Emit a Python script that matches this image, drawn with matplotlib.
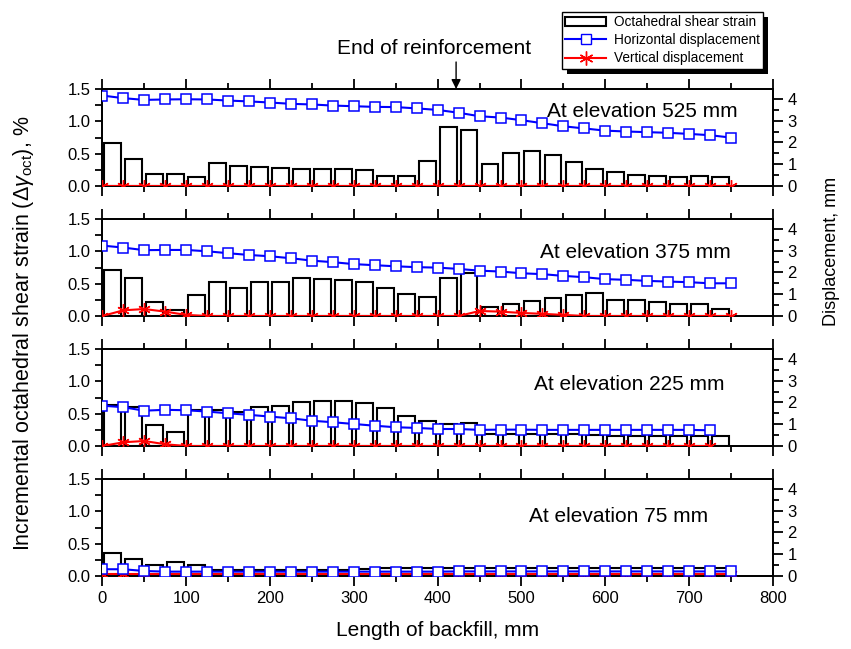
import matplotlib
matplotlib.use("Agg")
import matplotlib.pyplot as plt
from matplotlib.ticker import MultipleLocator, FormatStrFormatter
from matplotlib.patches import Rectangle, Patch
from matplotlib.lines import Line2D
import numpy as np

plt.rcParams['font.family'] = ['Liberation Sans', 'DejaVu Sans']
plt.rcParams['mathtext.fontset'] = 'custom'
plt.rcParams['mathtext.rm'] = 'Liberation Sans'
plt.rcParams['mathtext.it'] = 'Liberation Sans:italic'

# ---- data ----
bar_x = [12.5, 37.5, 62.5, 87.5, 112.5, 137.5, 162.5, 187.5, 212.5, 237.5,
         262.5, 287.5, 312.5, 337.5, 362.5, 387.5, 412.5, 437.5, 462.5, 487.5,
         512.5, 537.5, 562.5, 587.5, 612.5, 637.5, 662.5, 687.5, 712.5, 737.5]
pt_x = [0, 25, 50, 75, 100, 125, 150, 175, 200, 225, 250, 275, 300, 325, 350,
        375, 400, 425, 450, 475, 500, 525, 550, 575, 600, 625, 650, 675, 700,
        725, 750]

elevations = ["At elevation 525 mm", "At elevation 375 mm",
              "At elevation 225 mm", "At elevation 75 mm"]

strain_525 = [0.67, 0.41, 0.18, 0.19, 0.14, 0.36, 0.31, 0.30, 0.28, 0.27,
              0.26, 0.26, 0.25, 0.16, 0.16, 0.38, 0.92, 0.87, 0.34, 0.51,
              0.54, 0.48, 0.37, 0.26, 0.21, 0.175, 0.16, 0.145, 0.15, 0.145]
strain_375 = [0.71, 0.58, 0.21, 0.10, 0.33, 0.53, 0.43, 0.52, 0.53, 0.59,
              0.57, 0.55, 0.52, 0.43, 0.34, 0.30, 0.58, 0.67, 0.14, 0.19,
              0.23, 0.28, 0.32, 0.36, 0.25, 0.25, 0.22, 0.18, 0.18, 0.11]
strain_225 = [0.63, 0.60, 0.33, 0.22, 0.56, 0.56, 0.52, 0.60, 0.62, 0.68,
              0.69, 0.69, 0.66, 0.58, 0.47, 0.39, 0.34, 0.35, 0.19, 0.19,
              0.19, 0.19, 0.19, 0.17, 0.16, 0.16, 0.155, 0.155, 0.155, 0.155]
strain_75 = [0.36, 0.26, 0.17, 0.22, 0.17, 0.10, 0.10, 0.10, 0.10, 0.10,
             0.10, 0.10, 0.11, 0.12, 0.12, 0.12, 0.12, 0.12, 0.12, 0.12,
             0.12, 0.12, 0.12, 0.12, 0.12, 0.12, 0.12, 0.12, 0.12, 0.12]

horiz_525 = [4.15, 4.03, 3.95, 3.97, 3.98, 3.97, 3.92, 3.88, 3.83, 3.77,
             3.74, 3.69, 3.66, 3.63, 3.62, 3.56, 3.49, 3.36, 3.20, 3.14,
             3.02, 2.88, 2.74, 2.64, 2.54, 2.50, 2.47, 2.44, 2.39, 2.33, 2.22]
horiz_375 = [3.23, 3.14, 3.02, 3.03, 3.03, 2.97, 2.88, 2.80, 2.74, 2.65,
             2.54, 2.47, 2.38, 2.33, 2.28, 2.24, 2.22, 2.16, 2.08, 2.04,
             1.96, 1.92, 1.84, 1.78, 1.69, 1.66, 1.61, 1.58, 1.55, 1.50, 1.50]
horiz_225 = [1.85, 1.78, 1.62, 1.66, 1.64, 1.58, 1.50, 1.43, 1.35, 1.27,
             1.16, 1.09, 1.01, 0.93, 0.86, 0.83, 0.78, 0.78, 0.74, 0.75,
             0.75, 0.74, 0.74, 0.74, 0.74, 0.74, 0.74, 0.74, 0.74, 0.72]
horiz_75 = [0.31, 0.31, 0.23, 0.20, 0.20, 0.20, 0.20, 0.20, 0.20, 0.20,
            0.20, 0.20, 0.20, 0.20, 0.20, 0.20, 0.20, 0.21, 0.21, 0.21,
            0.21, 0.21, 0.21, 0.21, 0.21, 0.21, 0.21, 0.21, 0.21, 0.21, 0.21]

vert_525 = [0.0] * 31
vert_375 = [0.0, 0.26, 0.32, 0.20, 0.05, 0.0, 0.0, 0.0, 0.0, 0.0,
            0.0, 0.0, 0.0, 0.0, 0.0, 0.0, 0.0, 0.0, 0.23, 0.20,
            0.14, 0.10, 0.05, 0.0, 0.0, 0.0, 0.0, 0.0, 0.0, 0.0, 0.0]
vert_225 = [0.0, 0.17, 0.23, 0.08, 0.0, 0.0, 0.0, 0.0, 0.0, 0.0,
            0.0, 0.0, 0.0, 0.0, 0.0, 0.0, 0.0, 0.0, 0.0, 0.0,
            0.0, 0.0, 0.0, 0.0, 0.0, 0.0, 0.0, 0.0, 0.0, 0.0]
vert_75 = [0.10] * 31

reinforcement_end = 422

strains = [strain_525, strain_375, strain_225, strain_75]
horizs = [horiz_525, horiz_375, horiz_225, horiz_75]
verts = [vert_525, vert_375, vert_225, vert_75]

label_x = [530, 522, 515, 509]
label_y = [0.77, 0.65, 0.63, 0.61]

W, H = 851, 649
fig = plt.figure(figsize=(W / 100, H / 100), dpi=100)

left_px, right_px = 102.3, 773.0
tops = [89, 219, 349, 479]
ph = 97

axes = []
for i in range(4):
    ax = fig.add_axes([left_px / W, 1 - (tops[i] + ph) / H,
                       (right_px - left_px) / W, ph / H])
    axes.append(ax)
    s = strains[i]
    ax.bar(bar_x, s, width=20, facecolor='white', edgecolor='black',
           linewidth=1.5, zorder=2)
    ax.set_xlim(0, 800)
    ax.set_ylim(0, 1.5)
    ax.xaxis.set_major_locator(MultipleLocator(100))
    ax.xaxis.set_minor_locator(MultipleLocator(50))
    ax.yaxis.set_major_locator(MultipleLocator(0.5))
    ax.yaxis.set_minor_locator(MultipleLocator(0.25))
    ax.yaxis.set_major_formatter(FormatStrFormatter('%.1f'))
    ax.tick_params(which='both', direction='out', top=True, bottom=True,
                   left=True, right=False, width=1.3, labelsize=12)
    ax.tick_params(which='major', length=7)
    ax.tick_params(which='minor', length=4.5)
    ax.tick_params(axis='y', which='both', length=5)
    if i < 3:
        ax.tick_params(axis='x', labelbottom=False)
    for sp in ax.spines.values():
        sp.set_linewidth(1.3)

    ax2 = ax.twinx()
    n = len(horizs[i])
    ax2.plot(pt_x[:n], horizs[i], color='#0000ff', linewidth=1.5, marker='s',
             markersize=7, markerfacecolor='white', markeredgecolor='#0000ff',
             markeredgewidth=1.1, zorder=4)
    nv = len(verts[i])
    ax2.plot(pt_x[:nv], verts[i], color='red', linewidth=1.5,
             marker=(6, 2, 0), markersize=9, markeredgecolor='red',
             markeredgewidth=1.0, zorder=3)
    ax2.set_ylim(0, 4.45)
    ax2.yaxis.set_major_locator(MultipleLocator(1))
    ax2.yaxis.set_minor_locator(MultipleLocator(0.5))
    ax2.tick_params(which='both', direction='out', width=1.3, labelsize=12)
    ax2.tick_params(which='major', length=7)
    ax2.tick_params(which='minor', length=4.5)
    for sp in ax2.spines.values():
        sp.set_linewidth(1.3)

    ax2.text(label_x[i], label_y[i], elevations[i],
             transform=ax.get_xaxis_transform(),
             fontsize=15, ha='left', va='center', zorder=6)

axes[-1].set_xlabel("Length of backfill, mm", fontsize=15, labelpad=11)

fig.text(24 / W, 1 - 333 / H,
         r"Incremental octahedral shear strain ($\Delta\gamma_{\mathrm{oct}}$), %",
         rotation=90, ha='center', va='center', fontsize=15.5)
fig.text(831 / W, 1 - 251 / H, "Displacement, mm", rotation=90,
         ha='center', va='center', fontsize=13)

# End of reinforcement annotation
axes[0].annotate("", xy=(reinforcement_end, 1.5), xycoords='data',
                 xytext=(reinforcement_end, 1 - 62 / H),
                 textcoords=('data', 'figure fraction'),
                 arrowprops=dict(arrowstyle='-|>', color='black', lw=1.0,
                                 shrinkA=0, shrinkB=0, mutation_scale=14,
                                 facecolor='black'),
                 annotation_clip=False)
fig.text(434 / W, 1 - 48 / H, "End of reinforcement", ha='center',
         va='center', fontsize=15)

# Legend
handles = [Patch(facecolor='white', edgecolor='black', linewidth=1.5),
           Line2D([], [], color='#0000ff', lw=1.5, marker='s', markersize=6.5,
                  markerfacecolor='white', markeredgecolor='#0000ff'),
           Line2D([], [], color='red', lw=1.5, marker=(6, 2, 0), markersize=10)]
labels = ["Octahedral shear strain", "Horizontal displacement",
          "Vertical displacement"]
leg = fig.legend(handles, labels, loc='upper left',
                 bbox_to_anchor=(561.7 / W, 1 - 11.7 / H), fontsize=9.8,
                 frameon=True, fancybox=False, edgecolor='black',
                 framealpha=1, handlelength=3.0, borderpad=0.25,
                 labelspacing=0.3, handletextpad=0.6, borderaxespad=0)
leg.get_frame().set_linewidth(1.0)
leg.set_zorder(10)

fig.canvas.draw()
bb = leg.get_window_extent()
shadow = Rectangle(((bb.x0 + 5) / W, (bb.y0 - 5) / H), bb.width / W, bb.height / H,
                   transform=fig.transFigure, facecolor='black', edgecolor='none',
                   zorder=9)
fig.patches.append(shadow)

fig.savefig("out.png", dpi=100)
